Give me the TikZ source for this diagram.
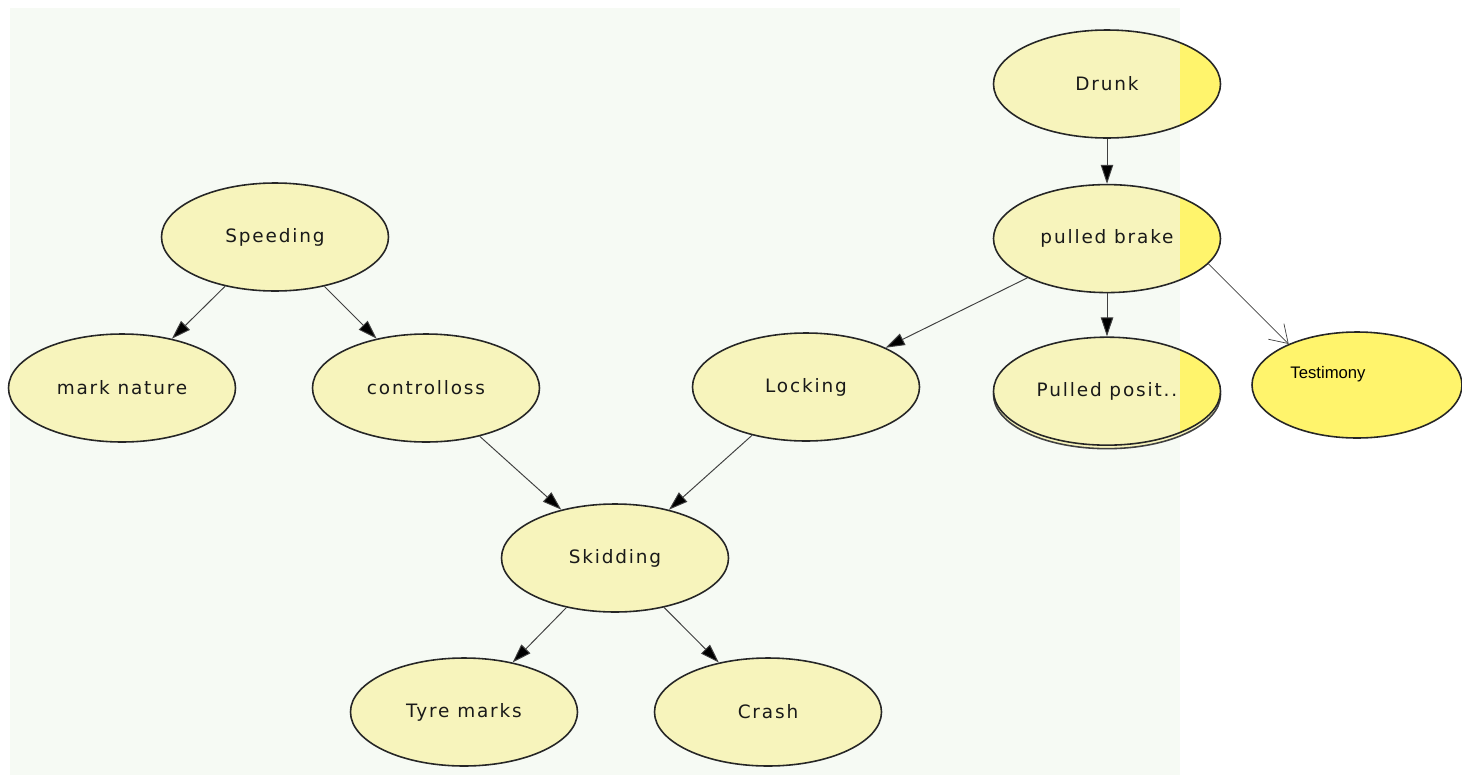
\documentclass[tikz,border=0pt]{standalone}
\usepackage{fontspec}
\setmainfont{DejaVu Sans}
\newfontfamily\netfont{DejaVu Sans}[LetterSpace=10]
\newfontfamily\obsfont{Liberation Sans}
\usetikzlibrary{shapes.geometric,positioning,arrows.meta,shadows}
\definecolor{paper}{HTML}{F6FAF4}
\definecolor{nodefill}{HTML}{F7F4BC}
\definecolor{hiyellow}{HTML}{FFF46C}
\tikzset{
  var/.style={ellipse,draw=black!85,line width=0.9pt,fill=nodefill,
    minimum width=45.4mm,minimum height=21.6mm,inner sep=0pt,
    font=\netfont\fontsize{10.5}{12}\selectfont,text=black!90},
  cut/.style={path picture={
    \fill[hiyellow] ([xshift=14.6mm]path picture bounding box.south)
      rectangle (path picture bounding box.north east);}},
  >={Triangle[length=3.8mm,width=2.5mm,fill=black]},
  link/.style={->,draw=black!75,line width=0.55pt},
}

\begin{document}
\begin{tikzpicture}[x=0.2mm,y=-0.2mm]
  \useasboundingbox (0,0) rectangle (1462,780);
  \fill[paper] (10,8) rectangle (1180,775);

  % left tree
  \node[var] (sp) at (275,237) {Speeding};
  \node[var] (mn) at (122,388) {mark nature};
  \node[var] (cl) at (426,388) {controlloss};
  \node[var] (lk) at (806,387) {Locking};
  \node[var] (sk) at (615,558) {Skidding};
  \node[var] (ty) at (464,712) {Tyre marks};
  \node[var] (cr) at (768,712) {Crash};

  % right column
  \node[var,cut] (dr) at (1107,84) {Drunk};
  \node[var,cut,below=9mm of dr] (pb) {pulled brake};
  \node[var,cut,below=8.6mm of pb,
    copy shadow={shadow xshift=0mm,shadow yshift=-0.7mm,
      draw=black!75,fill=nodefill}] (pp) {Pulled posit..};
  \node[var,fill=hiyellow,minimum width=42mm,minimum height=21.2mm,
    label={[font=\obsfont\fontsize{9.5}{11}\selectfont,
      xshift=-5.8mm,yshift=2.2mm]center:Testimony}] (tm) at (1357,385) {};

  \draw[link] (dr) -- (pb);
  \draw[link] (pb) -- (pp);
  \draw[link] (pb) -- (lk);
  \draw[link,line width=0.4pt,-{Straight Barb[length=3.4mm,width=4.4mm]}]
    (pb.-14) -- (tm.149);
  \draw[link] (sp) -- (mn);
  \draw[link] (sp) -- (cl);
  \draw[link] (cl) -- (sk);
  \draw[link] (lk) -- (sk);
  \draw[link] (sk) -- (ty);
  \draw[link] (sk) -- (cr);
\end{tikzpicture}
\end{document}
